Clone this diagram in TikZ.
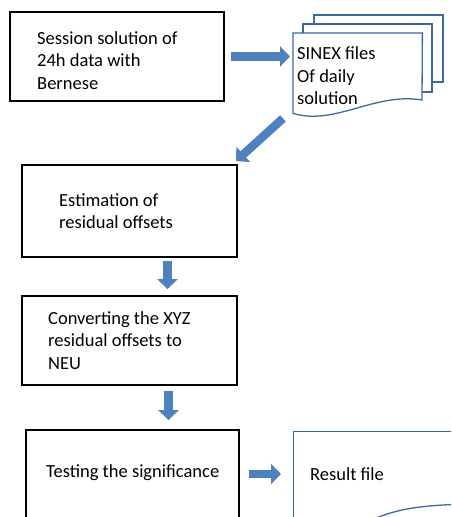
\documentclass[tikz,border=0pt]{standalone}
\usepackage{fontspec}
\setmainfont{Carlito}
\usepackage{tikz}
\usetikzlibrary{arrows.meta,positioning,calc}

\definecolor{flowblue}{HTML}{4F81BD}
\definecolor{pageblue}{HTML}{3B6AA0}

\begin{document}
\begin{tikzpicture}[
  x=1pt, y=-1pt,
  font=\fontsize{18.5}{22.5}\selectfont,
  stage/.style={draw=black, line width=1.8pt, rectangle, inner sep=0pt},
  txt/.style={anchor=west, align=left, inner sep=0pt},
  sheet/.style={draw=pageblue, line width=1.3pt, fill=white},
  flow/.style={draw=flowblue, line width=8.5pt,
               -{Triangle[length=10pt, width=20pt]}}
]
\useasboundingbox (0,0) rectangle (451,517);
\clip (0,0) rectangle (451,517);

% process boxes
\node[stage, minimum width=214pt, minimum height=89pt] (sess) at (117,56.5) {};
\node[stage, minimum width=215pt, minimum height=92pt] (est)  at (129.5,211) {};
\node[stage, minimum width=215pt, minimum height=89pt] (conv) at (129.5,340.5) {};
\node[stage, minimum width=213pt, minimum height=88pt] (test) at (132.5,474) {};

\node[txt] at (37,60.5)  {Session solution of\\24h data with\\Bernese};
\node[txt] at (59,211)   {Estimation of\\residual offsets};
\node[txt] at (48,340.5) {Converting the XYZ\\residual offsets to\\NEU};
\node[txt] at (46,473)   {Testing the significance};

% stack of SINEX files
\draw[sheet] (314,15) rectangle (443,82);
\draw[sheet] (303,24) rectangle (432,92);
\node[minimum width=129pt, minimum height=80pt, anchor=north west, inner sep=0pt]
  (sinex) at (293,33) {};
\draw[sheet] (sinex.south west) -- (sinex.north west) -- (sinex.north east)
  -- (422,100) .. controls (375,92) and (335,126) .. (sinex.south west) -- cycle;
\node[txt] at (297,76) {SINEX files\\Of daily\\solution};

% result file
\node[sheet, minimum width=190pt, minimum height=130pt, anchor=north west, inner sep=0pt]
  (res) at (293,431) {};
\draw[draw=pageblue, line width=1.3pt] (368,522) .. controls (395,508) and (425,505) .. (470,504);
\node[txt] at (310,474) {Result file};

% connectors
\draw[flow, shorten <=6pt, shorten >=3pt] (sess.east) -- (sess.east -| sinex.west);
\draw[flow] ([shift={(-10,5)}]sinex.south west) -- ([shift={(-2,-3)}]est.north east);
\draw[flow, shorten <=3pt, shorten >=6pt] ([xshift=38pt]est.south) -- ([xshift=38pt]conv.north);
\draw[flow, shorten <=5pt, shorten >=9pt] ([xshift=39pt]conv.south) -- ([xshift=39pt]conv.south |- test.north);
\draw[flow, shorten <=9pt, shorten >=12pt] (test.east) -- (test.east -| res.west);
\end{tikzpicture}
\end{document}
